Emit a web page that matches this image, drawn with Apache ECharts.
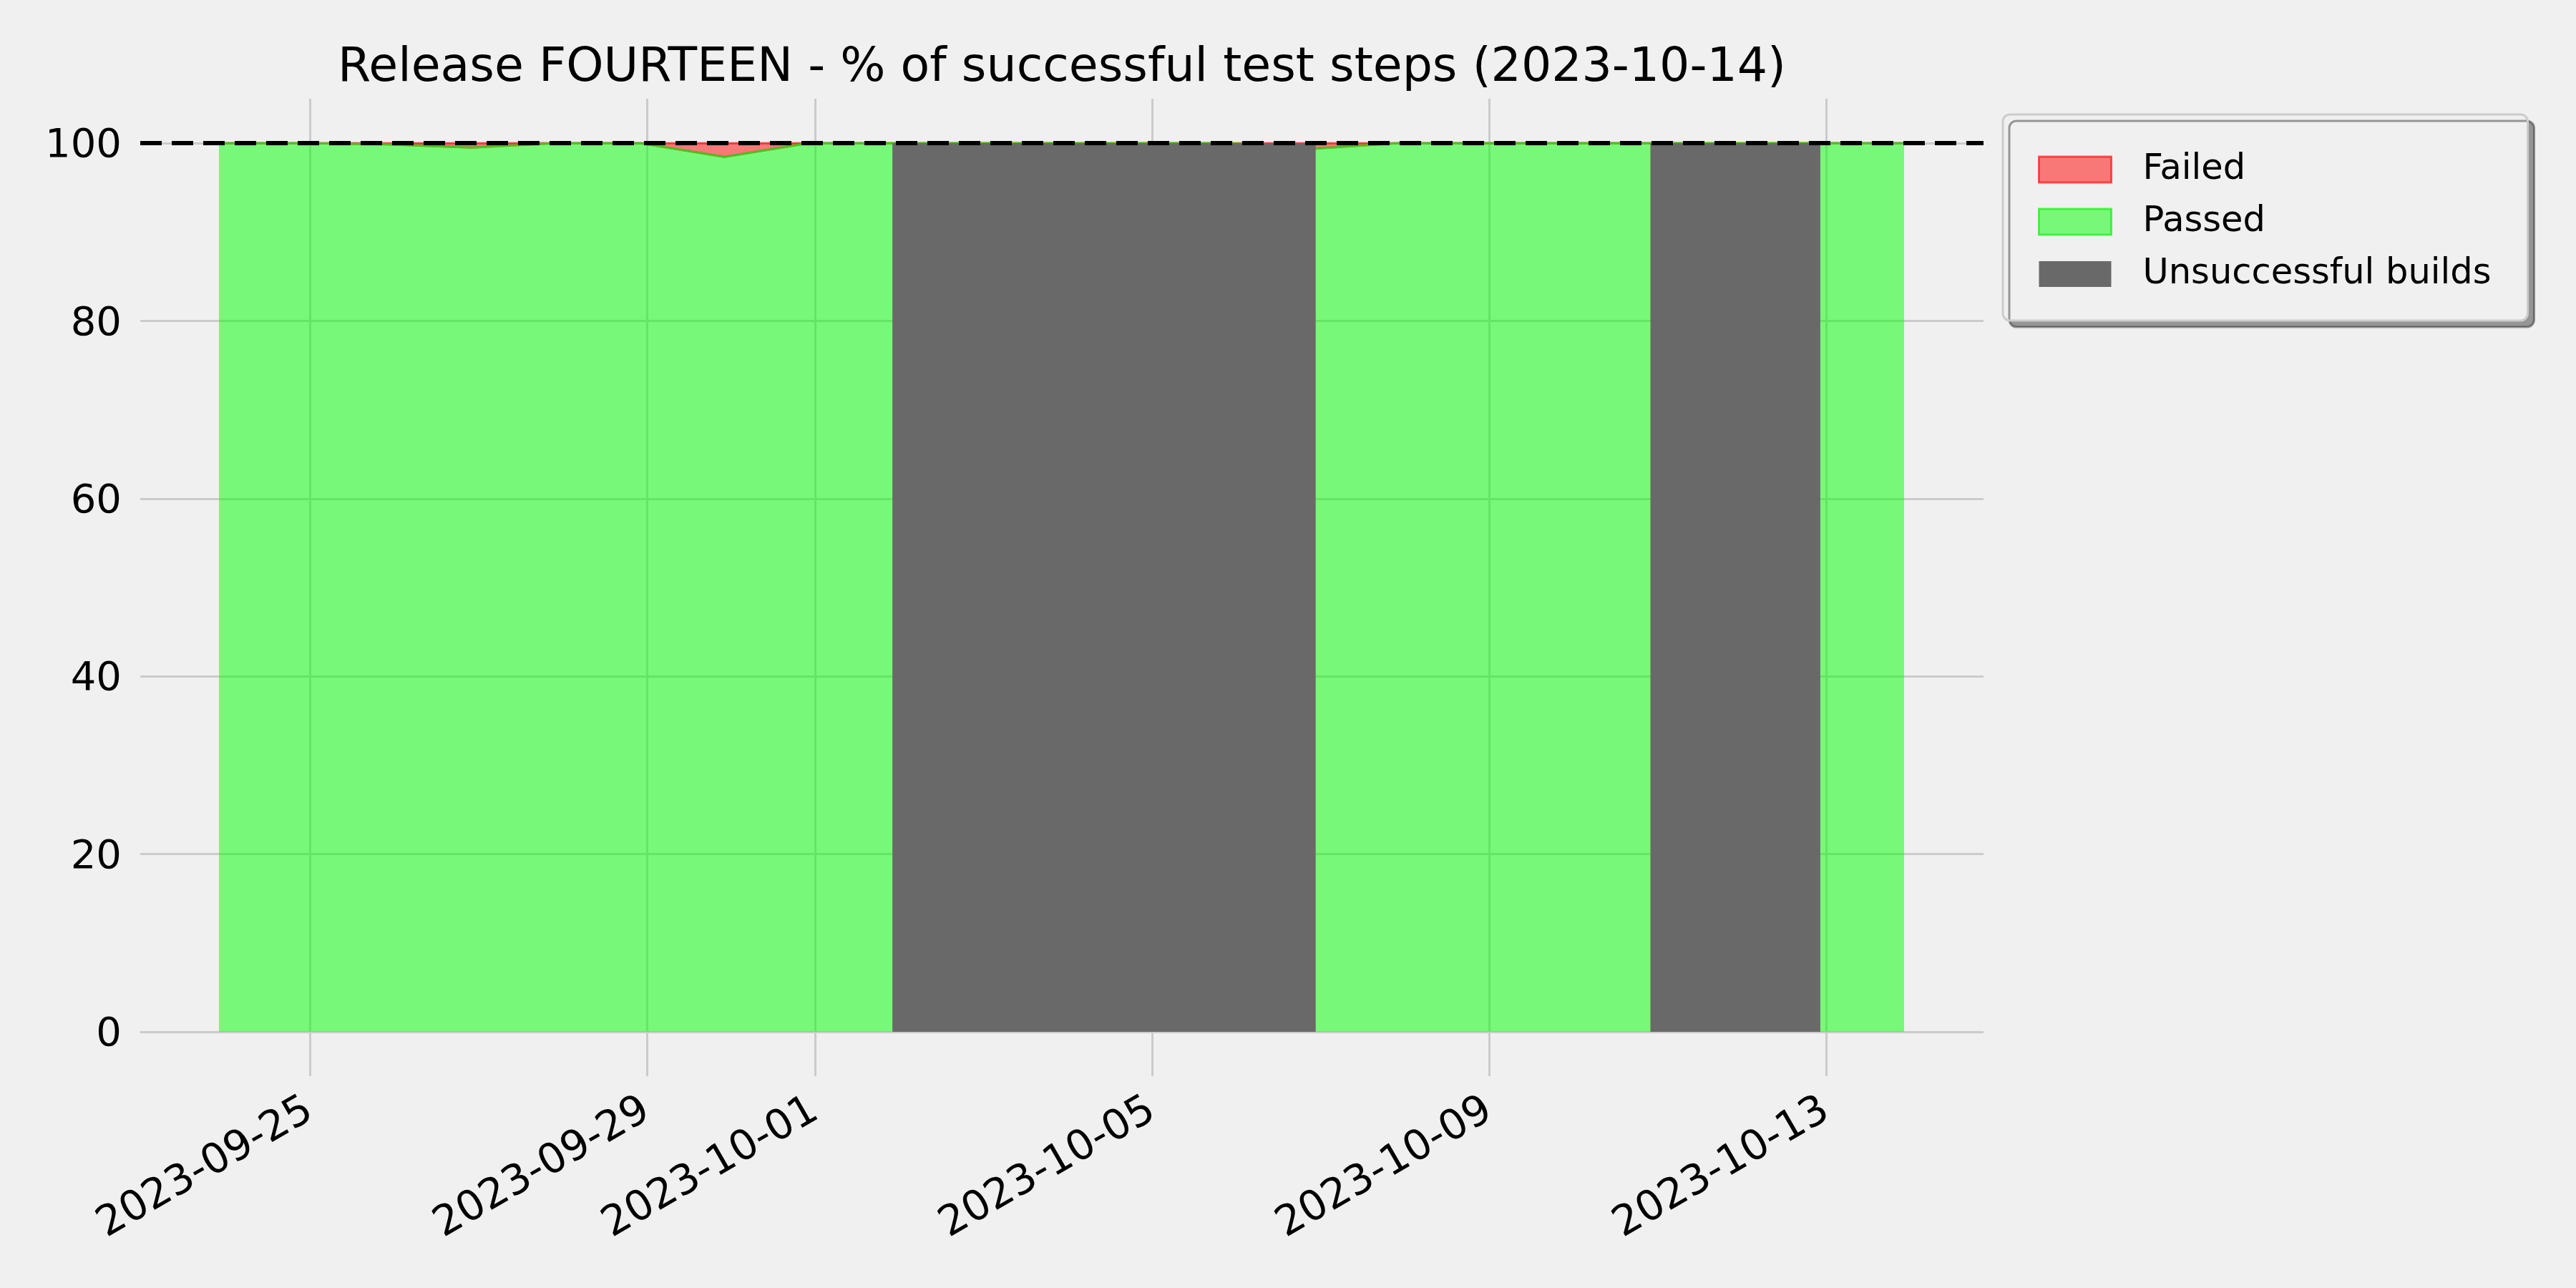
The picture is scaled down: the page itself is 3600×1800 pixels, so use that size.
<!DOCTYPE html>
<html><head><meta charset="utf-8">
<script src="https://cdn.jsdelivr.net/npm/echarts@6/dist/echarts.min.js"></script>
<style>html,body{margin:0;padding:0;background:#f0f0f0}#chart{width:3600px;height:1800px}</style>
</head><body><div id="chart"></div>
<script>
// ---- data ----
const dates = ['2023-09-23 22:06','2023-09-24 22:05','2023-09-25 22:05','2023-09-26 22:05','2023-09-27 22:05',
  '2023-09-28 22:05','2023-09-29 22:05','2023-09-30 22:05','2023-10-01 21:58','2023-10-02 22:05',
  '2023-10-03 22:05','2023-10-04 22:05','2023-10-05 22:05','2023-10-06 22:34','2023-10-07 22:05',
  '2023-10-08 22:05','2023-10-09 22:05','2023-10-10 21:56','2023-10-11 22:05','2023-10-12 22:20','2023-10-13 22:12'];
const passed = [100,100,99.87,99.5,100,100,98.45,100,100,100,100,100,100,99.4,100,100,100,100,100,100,100];
const failed = [0,0,0.13,0.5,0,0,1.55,0,0,0,0,0,0,0.6,0,0,0,0,0,0,0];
const unsuccessfulStart = ['2023-10-01 21:58','2023-10-10 21:56'];
const unsuccessfulEnd = ['2023-10-06 22:34','2023-10-12 22:20'];
const unsuccessfulBottom = [0,0];
const unsuccessfulTop = [100,100];
const xTickLabels = ['2023-09-25','2023-09-29','2023-10-01','2023-10-05','2023-10-09','2023-10-13'];
const yTickValues = [0,20,40,60,80,100];
const threshold = 100;
const xRange = ['2023-09-22 23:40','2023-10-14 20:50'];
const yRange = [-5,105];
const titleText = 'Release FOURTEEN - % of successful test steps (2023-10-14)';
const seriesNames = ['Failed','Passed','Unsuccessful builds'];

function toMs(s){
  const m = s.match(/(\d+)-(\d+)-(\d+)(?:[ T](\d+):(\d+))?/);
  return Date.UTC(+m[1], +m[2]-1, +m[3], m[4]?+m[4]:0, m[5]?+m[5]:0);
}
const xTickMs = xTickLabels.map(toMs);
const passedData = dates.map((d,i)=>[toMs(d), passed[i]]);
// failed band sits on top of passed (stacked): [x, bottom, top]
const failedData = dates.map((d,i)=>[toMs(d), passed[i], passed[i]+failed[i]]);
const unsuccessfulData = unsuccessfulStart.map((s,i)=>[toMs(s), toMs(unsuccessfulEnd[i]), unsuccessfulBottom[i], unsuccessfulTop[i]]);
const thresholdData = xRange.map(d=>[toMs(d), threshold]);

const FONT = 'DejaVu Sans';
const chart = echarts.init(document.getElementById('chart'), null, {renderer:'canvas'});
chart.setOption({
  animation:false,
  backgroundColor:'#f0f0f0',
  textStyle:{fontFamily:FONT},
  title:{text:titleText, left:1484, top:56, padding:0, textAlign:'center',
    textStyle:{fontFamily:FONT, fontSize:66.5, fontWeight:'normal', color:'#000', lineHeight:80}},
  legend:{
    orient:'vertical', left:2799, top:160,
    padding:[52,51,40,49],
    itemWidth:101, itemHeight:36, itemGap:23,
    backgroundColor:'#f0f0f0', borderColor:'#cccccc', borderWidth:3, borderRadius:10,
    shadowColor:'rgba(0,0,0,0.38)', shadowBlur:0, shadowOffsetX:9, shadowOffsetY:9,
    icon:'rect',
    textStyle:{fontFamily:FONT, fontSize:49.5, color:'#000', lineHeight:50, padding:[0,0,0,39]},
    data:[
      {name:seriesNames[0], itemStyle:{color:'rgba(255,0,0,0.5)', borderColor:'rgba(255,30,30,0.75)', borderWidth:3}},
      {name:seriesNames[1], itemStyle:{color:'rgba(0,255,0,0.5)', borderColor:'rgba(30,240,30,0.75)', borderWidth:3}},
      {name:seriesNames[2], itemStyle:{color:'#696969', borderWidth:0}}
    ]
  },
  grid:{left:196, right:828, top:138, bottom:296, containLabel:false},
  xAxis:{
    type:'value', min:toMs(xRange[0]), max:toMs(xRange[1]),
    axisLine:{show:false},
    axisTick:{show:false, customValues:xTickMs},
    axisLabel:{customValues:xTickMs, rotate:30, margin:44, fontFamily:FONT, fontSize:58, color:'#000',
      hideOverlap:false,
      formatter:function(v){ const i = xTickMs.indexOf(v); return i>=0 ? xTickLabels[i] : ''; }},
    splitLine:{show:true, lineStyle:{color:'#cbcbcb', width:3}}
  },
  yAxis:{
    type:'value', min:yRange[0], max:yRange[1],
    axisLine:{show:false},
    axisTick:{show:false, customValues:yTickValues},
    axisLabel:{customValues:yTickValues, margin:26, fontFamily:FONT, fontSize:56, color:'#000',
      verticalAlign:'top', lineHeight:9},
    splitLine:{show:true, lineStyle:{color:'#cbcbcb', width:3}}
  },
  series:[
    {name:seriesNames[1], type:'line', data:passedData, showSymbol:false, z:2,
      itemStyle:{color:'rgba(0,255,0,0.5)'},
      lineStyle:{color:'rgba(60,205,30,0.9)', width:3},
      areaStyle:{color:'rgba(0,255,0,0.5)', opacity:1}},
    {name:seriesNames[0], type:'custom', z:2, data:failedData,
      encode:{x:0, y:[1,2]},
      itemStyle:{color:'rgba(255,0,0,0.5)'},
      renderItem:function(params, api){
        if (params.dataIndex !== 0) return null;
        const topPts = failedData.map(d=>api.coord([d[0], d[2]]));
        const botPts = failedData.map(d=>api.coord([d[0], d[1]])).reverse();
        return {type:'polygon', shape:{points:topPts.concat(botPts)},
          style:{fill:'rgba(255,0,0,0.5)', stroke:'rgba(255,0,0,0.55)', lineWidth:3}};
      }},
    {name:seriesNames[2], type:'custom', z:3, data:unsuccessfulData,
      encode:{x:[0,1], y:[2,3]},
      itemStyle:{color:'#696969'},
      renderItem:function(params, api){
        const p0 = api.coord([api.value(0), api.value(3)]);
        const p1 = api.coord([api.value(1), api.value(2)]);
        return {type:'rect', shape:{x:p0[0], y:p0[1], width:p1[0]-p0[0], height:p1[1]-p0[1]},
          style:{fill:'#696969'}};
      }},
    {name:'threshold', type:'line', data:thresholdData, showSymbol:false, z:10, silent:true,
      lineStyle:{color:'#000', width:6, type:[30,14]}}
  ]
});
</script></body></html>
